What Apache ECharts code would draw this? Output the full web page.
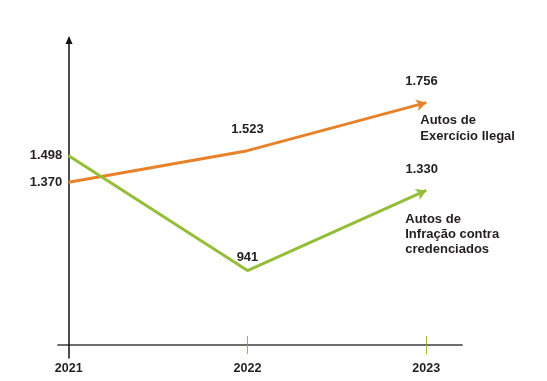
<!DOCTYPE html>
<html>
<head>
<meta charset="utf-8">
<script src="https://cdn.jsdelivr.net/npm/echarts@6/dist/echarts.min.js"></script>
<style>html,body{margin:0;padding:0;background:#fff}#c{width:547px;height:381px}</style>
</head>
<body>
<div id="c"></div>
<script>
const years = [2021, 2022, 2023];
const yearLabels = ['2021', '2022', '2023'];
const exercicioIlegal = [1370, 1523, 1756];
const infracaoCredenciados = [1498, 941, 1330];
const seriesNames = ['Autos de\nExercício Ilegal', 'Autos de\nInfração contra\ncredenciados'];

const ORANGE = '#e8822a', GREEN = '#94be3a', TEXT = '#231f20';
const FONT = 'Liberation Sans';
const X_MIN = 2020.94, X_MAX = 2023.2, Y_MIN = 580, Y_MAX = 2060;
const fmt = v => v.toLocaleString('de-DE');

const chart = echarts.init(document.getElementById('c'), null, {renderer: 'canvas'});

function buildData(vals, rot, labelCfg) {
  return years.map((y, i) => {
    const last = i === years.length - 1;
    return {
      value: [y, vals[i]],
      symbol: last ? 'arrow' : 'circle',
      symbolSize: last ? [9, 10] : 1,
      symbolRotate: last ? rot : 0,
      label: labelCfg[i]
    };
  });
}

const lbl = (pos, dist) => ({show: true, position: pos, distance: dist,
  formatter: p => fmt(p.value[1]), color: TEXT, fontFamily: FONT, fontWeight: 'bold', fontSize: 13});

function makeOption(rotA, rotB) {
  return {
    animation: false,
    grid: [
      {left: 58, right: 85, top: 40, bottom: 36},
      {left: 58, right: 85, top: 40, bottom: 36},
      {left: 69, right: 85, top: 40, bottom: 23}
    ],
    xAxis: [
      {type: 'value', gridIndex: 0, min: X_MIN, max: X_MAX,
        axisLine: {show: true, lineStyle: {color: '#6e6e6e', width: 2}},
        axisTick: {show: true, inside: false, length: 9, customValues: [2022, 2023], lineStyle: {color: GREEN, width: 1}},
        axisLabel: {show: true, customValues: years, margin: 17, formatter: v => yearLabels[years.indexOf(v)] || '',
          color: TEXT, fontFamily: FONT, fontWeight: 'bold', fontSize: 12.5},
        splitLine: {show: false}, z: 1},
      {type: 'value', gridIndex: 1, min: X_MIN, max: X_MAX,
        axisLine: {show: false},
        axisTick: {show: true, inside: true, length: 9, customValues: [2022, 2023], lineStyle: {color: GREEN, width: 1}},
        axisLabel: {show: false}, splitLine: {show: false}},
      {type: 'value', gridIndex: 2, min: years[0], max: X_MAX, show: false}
    ],
    yAxis: [
      {type: 'value', gridIndex: 0, min: Y_MIN, max: Y_MAX, show: false},
      {type: 'value', gridIndex: 1, min: Y_MIN, max: Y_MAX, show: false},
      {type: 'value', gridIndex: 2, min: 0, max: 1, show: true, position: 'left',
        axisLine: {show: true, symbol: ['none', 'triangle'], symbolSize: [7, 8], symbolOffset: [0, 0],
          lineStyle: {color: '#111', width: 1.5}},
        axisTick: {show: false}, axisLabel: {show: false}, splitLine: {show: false}, z: 2}
    ],
    series: [
      {
        name: seriesNames[0], type: 'line', xAxisIndex: 0, yAxisIndex: 0,
        data: buildData(exercicioIlegal, rotA, [lbl('left', 6), lbl('top', 14), lbl('top', 9)]),
        lineStyle: {color: ORANGE, width: 3}, itemStyle: {color: ORANGE},
        endLabel: {show: true, formatter: p => p.seriesName, offset: [-14, 26], align: 'left',
          color: TEXT, fontFamily: FONT, fontWeight: 'bold', fontSize: 13, lineHeight: 16},
        z: 3
      },
      {
        name: seriesNames[1], type: 'line', xAxisIndex: 0, yAxisIndex: 0,
        data: buildData(infracaoCredenciados, rotB, [lbl('left', 6), lbl('top', 6), lbl('top', 9)]),
        lineStyle: {color: GREEN, width: 3}, itemStyle: {color: GREEN},
        endLabel: {show: true, formatter: p => p.seriesName, offset: [-29, 44], align: 'left',
          color: TEXT, fontFamily: FONT, fontWeight: 'bold', fontSize: 13, lineHeight: 15},
        z: 3
      }
    ]
  };
}

chart.setOption(makeOption(0, 0));
function rotFor(vals) {
  const n = years.length;
  const a = chart.convertToPixel({gridIndex: 0}, [years[n - 2], vals[n - 2]]);
  const b = chart.convertToPixel({gridIndex: 0}, [years[n - 1], vals[n - 1]]);
  return Math.atan2(-(b[1] - a[1]), b[0] - a[0]) * 180 / Math.PI - 90;
}
chart.setOption(makeOption(rotFor(exercicioIlegal), rotFor(infracaoCredenciados)));
</script>
</body>
</html>
